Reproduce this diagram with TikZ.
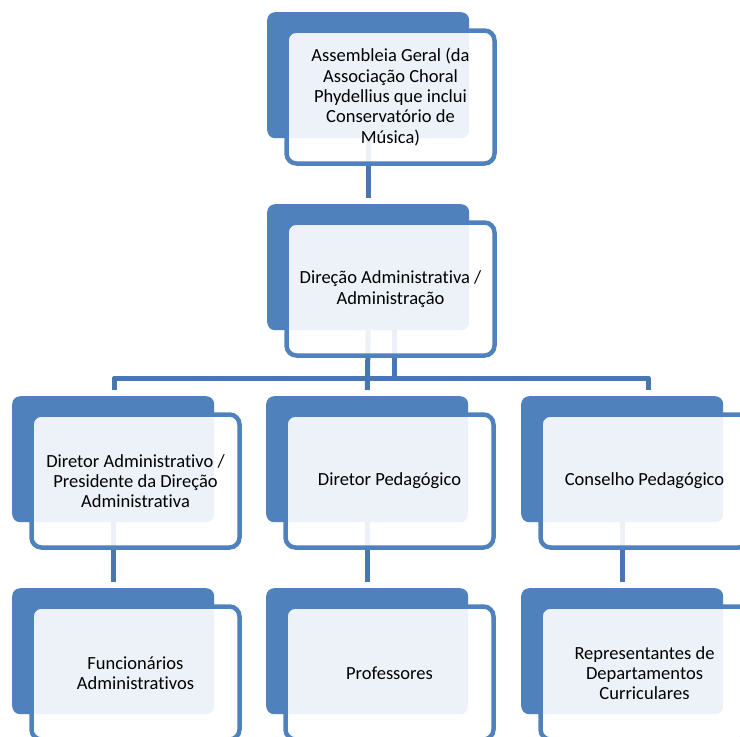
\documentclass[tikz,border=0pt]{standalone}
\usepackage{fontspec}
\setmainfont{Carlito}[Ligatures={NoCommon}]
\usetikzlibrary{calc,backgrounds}
\definecolor{boxblue}{HTML}{4F81BD}
\definecolor{linkblue}{HTML}{4876B1}
\begin{document}
\begin{tikzpicture}[x=1pt,y=-1pt,
  backbox/.style={fill=boxblue, rounded corners=8pt, minimum width=202pt, minimum height=126pt, inner sep=0pt, anchor=north west},
  frontbox/.style={draw=boxblue, line width=4.5pt, fill=white, fill opacity=0.9, text opacity=1, rounded corners=10pt, minimum width=208pt, minimum height=133pt, inner sep=0pt, align=center, font=\fontsize{18.5}{20.3}\selectfont, text=black},
  conn/.style={draw=linkblue, line width=5pt, shorten >=6pt}]
\useasboundingbox (0,0) rectangle (740,737);
\clip (0,0) rectangle (740,737);
% back boxes
\node[backbox] (Aback) at (267,12) {};
\node[backbox] (Bback) at (267,204) {};
\node[backbox] (C1back) at (12,396) {};
\node[backbox] (C2back) at (266,396) {};
\node[backbox] (C3back) at (521,396) {};
\node[backbox] (D1back) at (12,588) {};
\node[backbox] (D2back) at (266,588) {};
\node[backbox] (D3back) at (521,588) {};
% connectors (behind boxes)
\coordinate (bar) at (390,378);
\coordinate (bdrop) at ($(Bback.south)+(26,0)$);
\coordinate (c1top) at ($(C1back.north)+(1,0)$);
\coordinate (c3top) at ($(C3back.north)+(26,0)$);
\begin{pgfonlayer}{background}
\draw[conn] (Aback.south) -- (Bback.north);
\draw[conn, shorten >=0pt] (bdrop) -- (bdrop |- bar);
\draw[conn] (Bback.south) -- (C2back.north);
\draw[conn, shorten <=6pt, line join=round] (c1top) |- (bar) -| (c3top);
\draw[conn] (C1back.south) -- (D1back.north);
\draw[conn] (C2back.south) -- (D2back.north);
\draw[conn] (C3back.south) -- (D3back.north);
\end{pgfonlayer}
% front boxes
\node[frontbox] (A) at ($(Aback.north west)+(123.5,85)$) {Assembleia Geral (da\\Associação Choral\\Phydellius que inclui\\Conservatório de\\Música)};
\node[frontbox] (B) at ($(Bback.north west)+(123.5,85)$) {Direção Administrativa /\\Administração};
\node[frontbox] (C1) at ($(C1back.north west)+(123.5,85)$) {Diretor Administrativo /\\Presidente da Direção\\Administrativa};
\node[frontbox] (C2) at ($(C2back.north west)+(123.5,85)$) {Diretor Pedagógico};
\node[frontbox] (C3) at ($(C3back.north west)+(123.5,85)$) {Conselho Pedagógico};
\node[frontbox] (D1) at ($(D1back.north west)+(123.5,85)$) {Funcionários\\Administrativos};
\node[frontbox] (D2) at ($(D2back.north west)+(123.5,85)$) {Professores};
\node[frontbox] (D3) at ($(D3back.north west)+(123.5,85)$) {Representantes de\\Departamentos\\Curriculares};
\end{tikzpicture}
\end{document}
